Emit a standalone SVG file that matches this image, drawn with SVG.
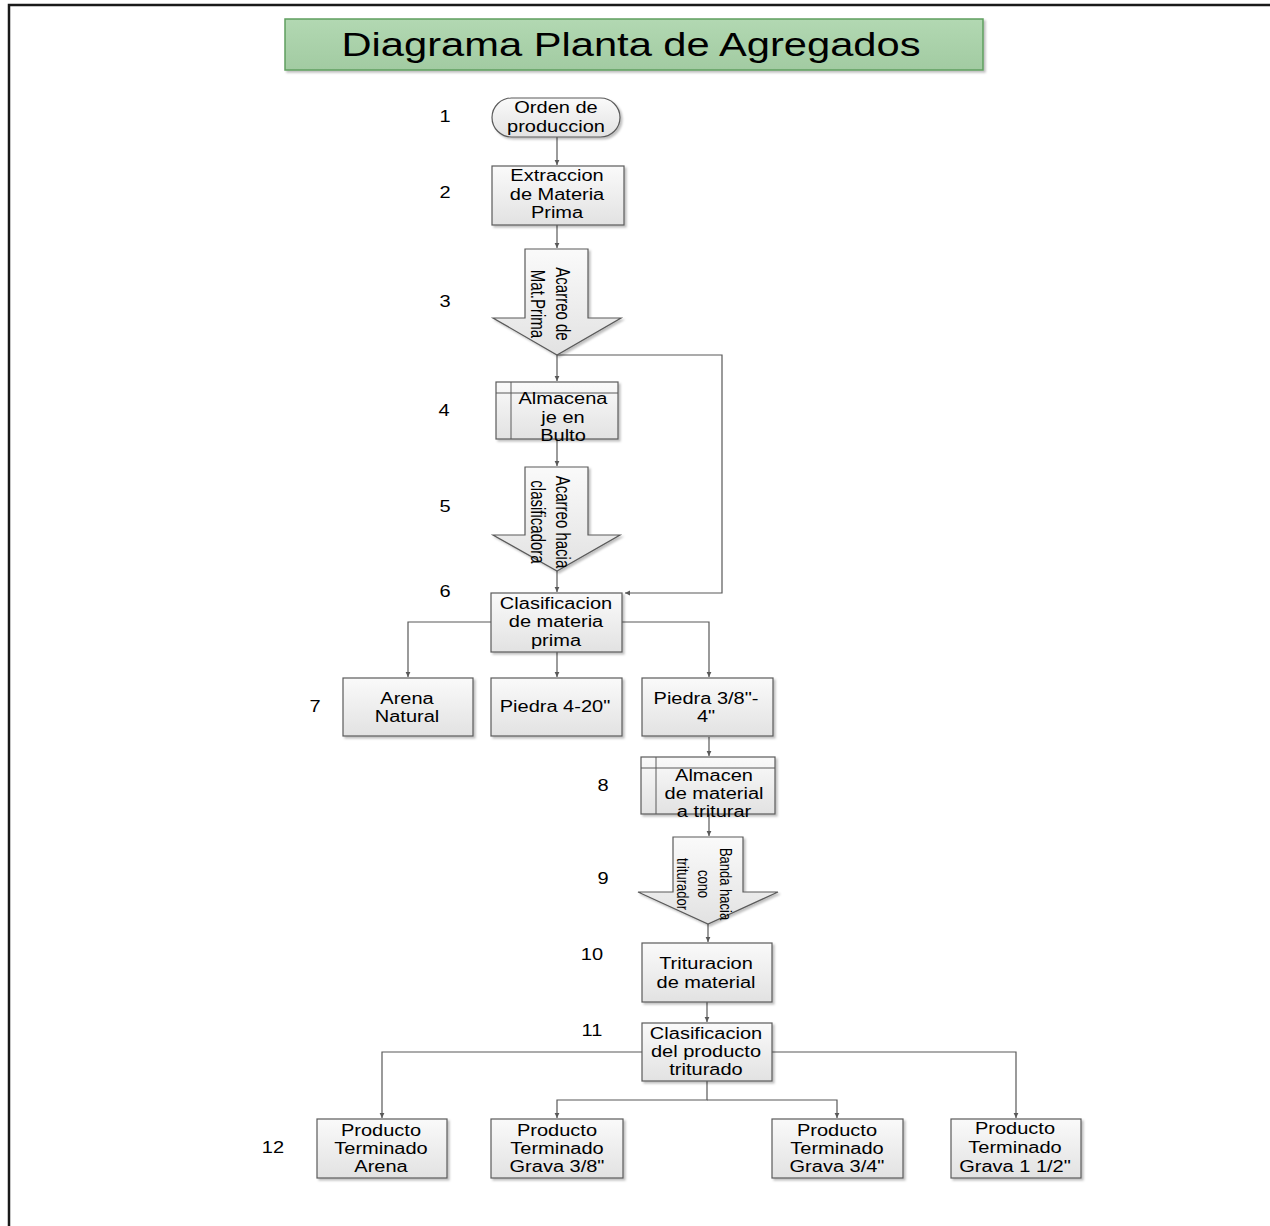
<svg xmlns="http://www.w3.org/2000/svg" width="1270" height="1226" viewBox="0 0 1270 1226">
<defs>
<linearGradient id="g" x1="0" y1="0" x2="0" y2="1"><stop offset="0" stop-color="#fafafa"/><stop offset="1" stop-color="#e2e2e2"/></linearGradient>
<linearGradient id="gt" x1="0" y1="0" x2="0" y2="1"><stop offset="0" stop-color="#b2d8b2"/><stop offset="1" stop-color="#a2cba2"/></linearGradient>
<filter id="sh" x="-10%" y="-10%" width="130%" height="130%"><feDropShadow dx="2" dy="2" stdDeviation="1.2" flood-color="#000" flood-opacity="0.25"/></filter>
<marker id="ar" markerWidth="6" markerHeight="6" refX="5" refY="3" orient="auto" markerUnits="userSpaceOnUse"><path d="M0,0.6 L5,3 L0,5.4 z" fill="#595959"/></marker>
<style>
.n{fill:url(#g);stroke:#5a5a5a;stroke-width:1.2;filter:url(#sh)}
.il{stroke:#5a5a5a;stroke-width:1;fill:none}
.t{font-family:"Liberation Sans",Arial,sans-serif;font-size:16px;fill:#000;text-anchor:middle}
.r{font-family:"Liberation Sans",Arial,sans-serif;font-size:15px;fill:#000;text-anchor:middle}
.num{font-family:"Liberation Sans",Arial,sans-serif;font-size:16px;fill:#000;text-anchor:middle}
.c{fill:none;stroke:#595959;stroke-width:1.2}
</style>
</defs>
<rect x="9" y="5" width="1275" height="1240" fill="#fff" stroke="#1a1a1a" stroke-width="2.5"/>

<g id="title">
<rect x="285" y="19" width="698" height="51" fill="url(#gt)" stroke="#5f9f5f" stroke-width="1.5" filter="url(#sh)"/>
<text x="631" y="56" font-family="Liberation Sans, Arial, sans-serif" font-size="34" text-anchor="middle" textLength="579" lengthAdjust="spacingAndGlyphs">Diagrama Planta de Agregados</text>
</g>

<g id="numbers">
<text class="num" transform="translate(445 0) scale(1.25 1)" x="0" y="122">1</text>
<text class="num" transform="translate(445 0) scale(1.25 1)" x="0" y="198">2</text>
<text class="num" transform="translate(445 0) scale(1.25 1)" x="0" y="307">3</text>
<text class="num" transform="translate(444 0) scale(1.25 1)" x="0" y="416">4</text>
<text class="num" transform="translate(445 0) scale(1.25 1)" x="0" y="512">5</text>
<text class="num" transform="translate(445 0) scale(1.25 1)" x="0" y="597">6</text>
<text class="num" transform="translate(315 0) scale(1.25 1)" x="0" y="712">7</text>
<text class="num" transform="translate(603 0) scale(1.25 1)" x="0" y="791">8</text>
<text class="num" transform="translate(603 0) scale(1.25 1)" x="0" y="884">9</text>
<text class="num" transform="translate(592 0) scale(1.25 1)" x="0" y="960">10</text>
<text class="num" transform="translate(592 0) scale(1.25 1)" x="0" y="1036">11</text>
<text class="num" transform="translate(273 0) scale(1.25 1)" x="0" y="1153">12</text>
</g>

<g id="connectors">
<path class="c" d="M557 137 V165" marker-end="url(#ar)"/>
<path class="c" d="M557 225 V248" marker-end="url(#ar)"/>
<path class="c" d="M557 355 V381" marker-end="url(#ar)"/>
<path class="c" d="M557 355 H722 V593 H625" marker-end="url(#ar)"/>
<path class="c" d="M557 439 V466" marker-end="url(#ar)"/>
<path class="c" d="M557 571 V592" marker-end="url(#ar)"/>
<path class="c" d="M491 622 H408 V677" marker-end="url(#ar)"/>
<path class="c" d="M557 652 V677" marker-end="url(#ar)"/>
<path class="c" d="M622 622 H709 V677" marker-end="url(#ar)"/>
<path class="c" d="M709 737 V756" marker-end="url(#ar)"/>
<path class="c" d="M709 814 V836" marker-end="url(#ar)"/>
<path class="c" d="M708 924 V942" marker-end="url(#ar)"/>
<path class="c" d="M707 1002 V1022" marker-end="url(#ar)"/>
<path class="c" d="M642 1052 H382 V1118" marker-end="url(#ar)"/>
<path class="c" d="M707 1081 V1100 H557 V1118" marker-end="url(#ar)"/>
<path class="c" d="M707 1100 H837 V1118" marker-end="url(#ar)"/>
<path class="c" d="M772 1052 H1016 V1118" marker-end="url(#ar)"/>
</g>

<g id="n1">
<rect class="n" x="492" y="98" width="128" height="39" rx="19.5"/>
<text class="t" transform="translate(556 0) scale(1.25 1)"><tspan x="0" y="113">Orden de</tspan><tspan x="0" y="132">produccion</tspan></text>
</g>
<g id="n2">
<rect class="n" x="492" y="166" width="132" height="59"/>
<text class="t" transform="translate(557 0) scale(1.25 1)"><tspan x="0" y="181">Extraccion</tspan><tspan x="0" y="200">de Materia</tspan><tspan x="0" y="218">Prima</tspan></text>
</g>
<g id="n3">
<polygon class="n" points="525,249 588,249 588,318 621,318 557,355 493,318 525,318"/>
<text class="r" transform="translate(550 304) rotate(90) scale(1 1.3)"><tspan x="0" y="-4.5">Acarreo de</tspan><tspan x="0" y="14.5">Mat.Prima</tspan></text>
</g>
<g id="n4">
<rect class="n" x="496" y="382" width="122" height="57"/>
<path class="il" d="M496 393 H618 M511 382 V439"/>
<text class="t" transform="translate(563 0) scale(1.25 1)"><tspan x="0" y="404">Almacena</tspan><tspan x="0" y="423">je en</tspan><tspan x="0" y="441">Bulto</tspan></text>
</g>
<g id="n5">
<polygon class="n" points="525,467 588,467 588,535 620,535 557,571 493,535 525,535"/>
<text class="r" transform="translate(550 522) rotate(90) scale(1 1.3)"><tspan x="0" y="-4.5">Acarreo hacia</tspan><tspan x="0" y="14.5">clasificadora</tspan></text>
</g>
<g id="n6">
<rect class="n" x="491" y="593" width="131" height="59"/>
<text class="t" transform="translate(556 0) scale(1.25 1)"><tspan x="0" y="609">Clasificacion</tspan><tspan x="0" y="627">de materia</tspan><tspan x="0" y="646">prima</tspan></text>
</g>
<g id="n7a">
<rect class="n" x="343" y="678" width="130" height="58"/>
<text class="t" transform="translate(407 0) scale(1.25 1)"><tspan x="0" y="704">Arena</tspan><tspan x="0" y="722">Natural</tspan></text>
</g>
<g id="n7b">
<rect class="n" x="491" y="678" width="131" height="58"/>
<text class="t" transform="translate(555 0) scale(1.25 1)"><tspan x="0" y="712">Piedra 4-20"</tspan></text>
</g>
<g id="n7c">
<rect class="n" x="642" y="678" width="131" height="58"/>
<text class="t" transform="translate(706 0) scale(1.25 1)"><tspan x="0" y="704">Piedra 3/8"-</tspan><tspan x="0" y="722">4"</tspan></text>
</g>
<g id="n8">
<rect class="n" x="641" y="757" width="134" height="57"/>
<path class="il" d="M641 768 H775 M656 757 V814"/>
<text class="t" transform="translate(714 0) scale(1.25 1)"><tspan x="0" y="781">Almacen</tspan><tspan x="0" y="799">de material</tspan><tspan x="0" y="817">a triturar</tspan></text>
</g>
<g id="n9">
<polygon class="n" points="673,837 743,837 743,892 778,892 708,924 638,892 673,892"/>
<text class="r" style="font-size:13px" transform="translate(704 884) rotate(90) scale(1 1.3)"><tspan x="0" y="-12">Banda hacia</tspan><tspan x="0" y="4.5">cono</tspan><tspan x="0" y="21">triturador</tspan></text>
</g>
<g id="n10">
<rect class="n" x="642" y="943" width="130" height="59"/>
<text class="t" transform="translate(706 0) scale(1.25 1)"><tspan x="0" y="969">Trituracion</tspan><tspan x="0" y="988">de material</tspan></text>
</g>
<g id="n11">
<rect class="n" x="642" y="1023" width="130" height="58"/>
<text class="t" transform="translate(706 0) scale(1.25 1)"><tspan x="0" y="1039">Clasificacion</tspan><tspan x="0" y="1057">del producto</tspan><tspan x="0" y="1075">triturado</tspan></text>
</g>
<g id="n12a">
<rect class="n" x="317" y="1119" width="130" height="59"/>
<text class="t" transform="translate(381 0) scale(1.25 1)"><tspan x="0" y="1136">Producto</tspan><tspan x="0" y="1154">Terminado</tspan><tspan x="0" y="1172">Arena</tspan></text>
</g>
<g id="n12b">
<rect class="n" x="491" y="1119" width="132" height="59"/>
<text class="t" transform="translate(557 0) scale(1.25 1)"><tspan x="0" y="1136">Producto</tspan><tspan x="0" y="1154">Terminado</tspan><tspan x="0" y="1172">Grava 3/8"</tspan></text>
</g>
<g id="n12c">
<rect class="n" x="772" y="1119" width="131" height="59"/>
<text class="t" transform="translate(837 0) scale(1.25 1)"><tspan x="0" y="1136">Producto</tspan><tspan x="0" y="1154">Terminado</tspan><tspan x="0" y="1172">Grava 3/4"</tspan></text>
</g>
<g id="n12d">
<rect class="n" x="951" y="1119" width="130" height="59"/>
<text class="t" transform="translate(1015 0) scale(1.25 1)"><tspan x="0" y="1134">Producto</tspan><tspan x="0" y="1153">Terminado</tspan><tspan x="0" y="1172">Grava 1 1/2"</tspan></text>
</g>
</svg>
